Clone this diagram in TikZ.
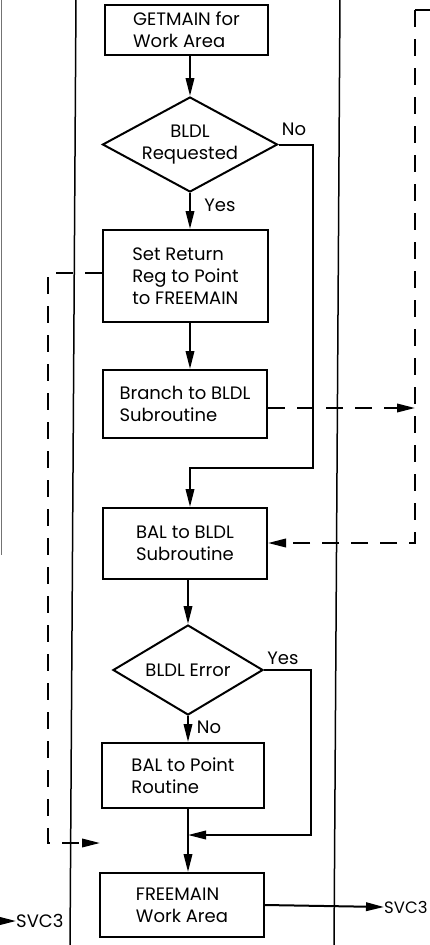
\documentclass[tikz,border=0pt]{standalone}
\usepackage{fontspec}
\setmainfont{Poppins}
\usetikzlibrary{arrows.meta,shapes.geometric}
\begin{document}
\begin{tikzpicture}[x=1pt,y=-1pt,
  txtfont/.style={font=\fontsize{18}{22}\selectfont},
  box/.style={draw, line width=2pt, align=left, inner sep=0pt, txtfont},
  dia/.style={draw, shape=diamond, line width=2pt, inner sep=0pt},
  diatext/.style={align=center, inner sep=0pt, txtfont},
  lbl/.style={inner sep=1pt, txtfont},
  flow/.style={line width=2pt},
  arr/.style={line width=2pt, -{Triangle[length=18pt,width=8.5pt]}},
  dsh/.style={line width=2pt, dash pattern=on 17pt off 12pt},
  divider/.style={line width=1.5pt}]
\useasboundingbox (0,0) rectangle (429,945);
% column dividers
\draw[divider] (76,-2) -- (70,947);
\draw[divider] (340,-2) -- (334,947);
\draw[line width=1.2pt, black!55] (1.2,0) -- (1.2,555);
% nodes
\node[box, minimum width=163, minimum height=50] (getmain) at (186.5,30) {GETMAIN for\\Work Area};
\node[dia, minimum width=175, minimum height=95] (req) at (190,144.5) {};
\node[diatext] (reqtext) at (req.center) {BLDL\\Requested};
\node[box, minimum width=165, minimum height=92] (setret) at (185.5,276) {Set Return\\Reg to Point\\to FREEMAIN};
\node[box, minimum width=164, minimum height=68] (branch) at (185,404) {Branch to BLDL\\Subroutine};
\node[box, minimum width=164, minimum height=71] (bal) at (185,543.5) {BAL to BLDL\\Subroutine};
\node[dia, minimum width=150, minimum height=90] (err) at (188,670) {};
\node[diatext] (errtext) at (err.center) {BLDL Error};
\node[box, minimum width=162, minimum height=65] (point) at (183,775.5) {BAL to Point\\Routine};
\node[box, minimum width=164, minimum height=64] (free) at (182,905) {FREEMAIN\\Work Area};
\node[anchor=west, inner sep=0pt, font=\fontsize{16.5}{20}\selectfont] (svcR) at (384,907) {SVC3};
\node[lbl, anchor=west, inner sep=0pt] (svcL) at (16,921) {SVC3};
\node[lbl] (no1) at (294,129) {No};
\node[lbl] (yes1) at (220,205) {Yes};
\node[lbl] (yes2) at (283,658) {Yes};
\node[lbl] (no2) at (209,727) {No};
% coordinates
\coordinate (noC) at (313,468);
\coordinate (yesC) at (311,835);
\coordinate (d1) at (48,273);
\coordinate (d2) at (48,843);
\coordinate (d3) at (100,843);
\coordinate (rTop) at (415,10);
\coordinate (rTopR) at (432,10);
\coordinate (rBot) at (415,543);
\coordinate (svcLs) at (-2,921);
% flow connectors
\draw[arr] (req.north |- getmain.south) -- (req.north);
\draw[arr] (req.south) -- (req.south |- setret.north);
\draw[arr] (req.south |- setret.south) -- (req.south |- branch.north);
\draw[arr] (req.east) -- (req.east -| noC) -- (noC) -- (noC -| req.south) -- (req.south |- bal.north);
\draw[arr] (err.north |- bal.south) -- (err.north);
\draw[arr] (err.south) -- (err.south |- point.north);
\draw[arr] (err.east) -- (err.east -| yesC) -- (yesC) -- (yesC -| err.south);
\draw[arr] (err.south |- point.south) -- (err.south |- free.north);
\draw[arr] (free.east) -- (svcR.west);
\draw[arr] (svcLs) -- (svcL.west);
% dashed connectors
\draw[dsh, -{Triangle[length=18pt,width=8.5pt]}] (setret.west |- d1) -- (d1) -- (d2) -- (d3);
\draw[dsh, -{Triangle[length=18pt,width=8.5pt]}] (branch.east |- 408,408) -- (rBot |- 408,408);
\draw[flow] (rTopR) -- (rTop);
\draw[dsh, -{Triangle[length=18pt,width=8.5pt]}] (rTop) -- (rBot) -- (bal.east |- rBot);
\end{tikzpicture}
\end{document}
